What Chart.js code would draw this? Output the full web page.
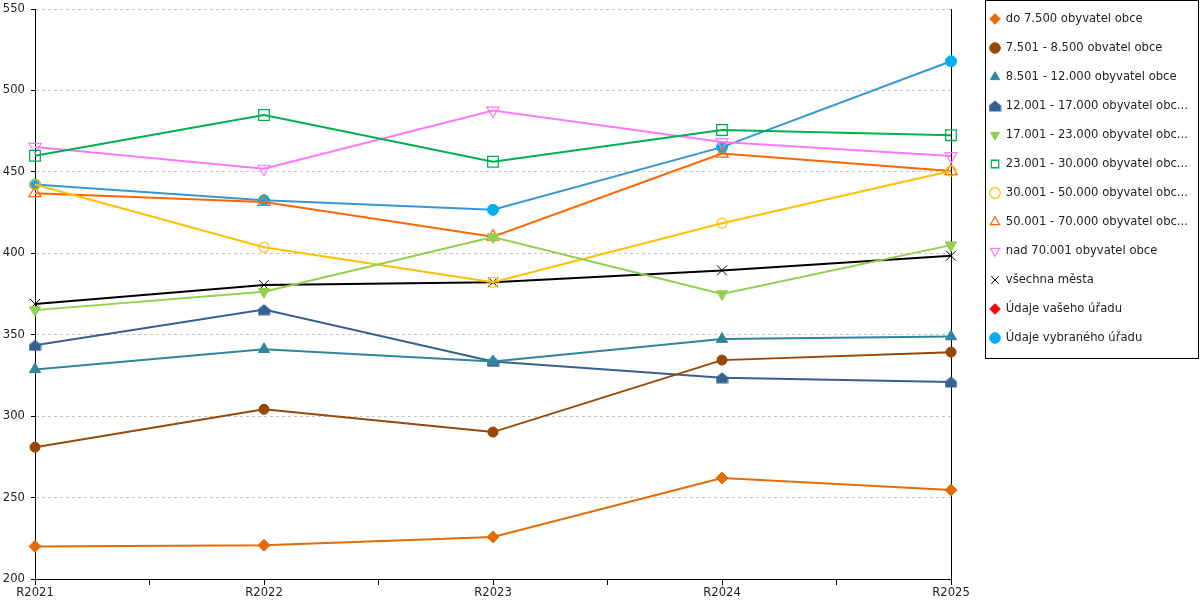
<!DOCTYPE html>
<html>
<head>
<meta charset="utf-8">
<script src="https://cdn.jsdelivr.net/npm/chart.js@4"></script>
<style>
html,body{margin:0;padding:0;background:#fff;}
#wrap{width:1200px;height:600px;position:relative;}
</style>
</head>
<body>
<div id="wrap"><canvas id="c" width="1200" height="600"></canvas></div>
<script>
const years = ['R2021', 'R2022', 'R2023', 'R2024', 'R2025'];
const yTicks = [200, 250, 300, 350, 400, 450, 500, 550];

const seriesNames = [
  'do 7.500 obyvatel obce',
  '7.501 - 8.500 obvatel obce',
  '8.501 - 12.000 obyvatel obce',
  '12.001 - 17.000 obyvatel obce',
  '17.001 - 23.000 obyvatel obce',
  '23.001 - 30.000 obyvatel obce',
  '30.001 - 50.000 obyvatel obce',
  '50.001 - 70.000 obyvatel obce',
  'nad 70.001 obyvatel obce',
  'všechna města',
  'Údaje vašeho úřadu',
  'Údaje vybraného úřadu'
];

const doVal     = [220.0, 220.7, 225.8, 262.0, 254.6];
const s7501     = [280.9, 304.2, 290.2, 334.4, 339.3];
const s8501     = [328.7, 341.1, 333.5, 347.3, 348.9];
const s12001    = [343.5, 365.4, 333.6, 323.6, 321.0];
const s17001    = [365.1, 376.4, 410.0, 375.0, 405.0];
const s23001    = [459.9, 484.9, 456.2, 475.7, 472.5];
const s30001    = [442.2, 403.7, 382.2, 418.5, 450.5];
const s50001    = [436.9, 431.5, 410.2, 461.2, 450.5];
const sNad70001 = [465.3, 451.9, 487.6, 468.3, 459.7];
const sVsechna  = [368.9, 380.6, 382.2, 389.5, 398.5];
const sVaseho   = [null, null, null, null, null];
const sVybraneho= [442.3, 432.6, 426.7, 465.2, 517.9];

// house-shaped marker
function makeHouse(color) {
  const cv = document.createElement('canvas');
  cv.width = 13; cv.height = 12;
  const g = cv.getContext('2d');
  g.fillStyle = color;
  g.beginPath();
  g.moveTo(6.5, 0.5);
  g.lineTo(12.5, 5.5);
  g.lineTo(12.5, 11.5);
  g.lineTo(0.5, 11.5);
  g.lineTo(0.5, 5.5);
  g.closePath();
  g.fill();
  return cv;
}
const house = makeHouse('#366092');

const T = 'rgba(0,0,0,0)';
function ds(i, data, line, style, opt) {
  return Object.assign({
    label: seriesNames[i],
    data: data,
    borderColor: line,
    backgroundColor: line,
    borderWidth: 2,
    pointStyle: style,
    pointRadius: 5,
    pointHoverRadius: 5,
    pointBackgroundColor: line,
    pointBorderColor: line,
    pointBorderWidth: 1,
    tension: 0,
    fill: false
  }, opt || {});
}

const datasets = [
  ds(0, doVal, '#E36C09', 'rectRot', {pointRadius: 6}),
  ds(1, s7501, '#974706', 'circle', {pointRadius: 5}),
  ds(2, s8501, '#31859C', 'triangle', {pointRadius: 6.5}),
  ds(3, s12001, '#366092', house, {}),
  ds(4, s17001, '#92D050', 'triangle', {pointRadius: 6.5, pointRotation: 180}),
  ds(5, s23001, '#00B050', 'rect', {pointRadius: 7.5, pointBackgroundColor: T, pointBorderWidth: 1.3}),
  ds(6, s30001, '#FFC000', 'circle', {pointRadius: 5, pointBackgroundColor: T, pointBorderWidth: 1.2}),
  ds(7, s50001, '#FF6600', 'triangle', {pointRadius: 7, pointBackgroundColor: T, pointBorderWidth: 1.2}),
  ds(8, sNad70001, '#FF77FF', 'triangle', {pointRadius: 7, pointRotation: 180, pointBackgroundColor: T, pointBorderWidth: 1.2}),
  ds(9, sVsechna, '#000000', 'crossRot', {pointRadius: 7, pointBackgroundColor: T, pointBorderWidth: 1}),
  ds(10, sVaseho, '#FF0000', 'rectRot', {pointRadius: 6}),
  ds(11, sVybraneho, '#3896D0', 'circle', {pointRadius: 5.5, pointBackgroundColor: '#00B0F0', pointBorderColor: '#00B0F0'})
];

const FONT = {family: 'DejaVu Sans', size: 11.6};

const legendFrame = {
  id: 'legendFrame',
  afterUpdate(chart) {
    const lg = chart.legend;
    if (!lg) return;
    const pad = lg.options.labels.padding;
    const itemH = FONT.size;
    const targetLeft = 990 - pad;
    const targetTop = 19 - itemH / 2 - pad;
    const dx = targetLeft - lg.left, dy = targetTop - lg.top;
    lg.left += dx; lg.right += dx; lg.top += dy; lg.bottom += dy;
    if (lg.legendHitBoxes) lg.legendHitBoxes.forEach(h => { h.left += dx; h.top += dy; });
  },
  afterDraw(chart) {
    const lg = chart.legend;
    const ctx = chart.ctx;
    const n = lg.legendItems.length;
    const pad = lg.options.labels.padding;
    const firstC = lg.top + pad + FONT.size / 2;
    const lastC = firstC + (n - 1) * (FONT.size + pad);
    const x0 = lg.left + pad - 5;
    ctx.save();
    ctx.strokeStyle = '#000';
    ctx.lineWidth = 1;
    ctx.strokeRect(Math.round(x0) + 0.5, 0.5, chart.width - 1 - Math.round(x0) - 1, Math.round(lastC + 20) );
    ctx.restore();
  }
};

new Chart(document.getElementById('c'), {
  type: 'line',
  data: {labels: years, datasets: datasets},
  options: {
    responsive: false,
    animation: false,
    devicePixelRatio: 1,
    layout: {padding: {top: 9, right: 249, bottom: 0, left: 0}},
    plugins: {
      tooltip: {enabled: false},
      legend: {
        position: 'chartArea',
        align: 'start',
        labels: {
          usePointStyle: true,
          boxWidth: 10,
          boxHeight: 7.5,
          padding: 29 - 11.6,
          color: '#222',
          font: FONT,
          generateLabels(chart) {
            const items = Chart.defaults.plugins.legend.labels.generateLabels(chart);
            items.forEach(it => {
              if (it.text.length > 28) it.text = it.text.slice(0, 28) + '...';
            });
            return items;
          }
        }
      }
    },
    scales: {
      x: {
        type: 'category',
        offset: false,
        afterBuildTicks(scale) {
          const t = [];
          for (let i = 0; i <= (years.length - 1) * 2; i++) t.push({value: i / 2});
          scale.ticks = t;
        },
        afterFit(scale) { scale.height = 21; },
        grid: {display: true, drawOnChartArea: false, drawTicks: true, tickLength: 6, color: '#000', tickColor: '#000'},
        border: {display: true, color: '#000', width: 1},
        ticks: {
          autoSkip: false, maxRotation: 0, minRotation: 0, padding: 1,
          color: '#222', font: FONT,
          callback: (v) => Number.isInteger(v) ? years[v] : ''
        }
      },
      y: {
        type: 'linear',
        min: yTicks[0],
        max: yTicks[yTicks.length - 1],
        afterBuildTicks(scale) { scale.ticks = yTicks.map(v => ({value: v})); },
        afterFit(scale) { scale.width = 35; scale.paddingTop = 0; scale.paddingBottom = 0; },
        grid: {display: true, drawOnChartArea: true, drawTicks: true, tickLength: 4, color: '#C4C4C4', tickColor: '#000', lineWidth: 1},
        border: {display: true, color: '#000', width: 1, dash: [3, 3]},
        ticks: {padding: 6, color: '#222', font: FONT}
      },
      y2: {
        type: 'linear',
        position: 'right',
        display: true,
        afterFit(scale) { scale.paddingTop = 0; scale.paddingBottom = 0; },
        grid: {display: false, drawTicks: false},
        ticks: {display: false},
        border: {display: true, color: '#000', width: 1}
      }
    }
  },
  plugins: [legendFrame]
});
</script>
</body>
</html>
